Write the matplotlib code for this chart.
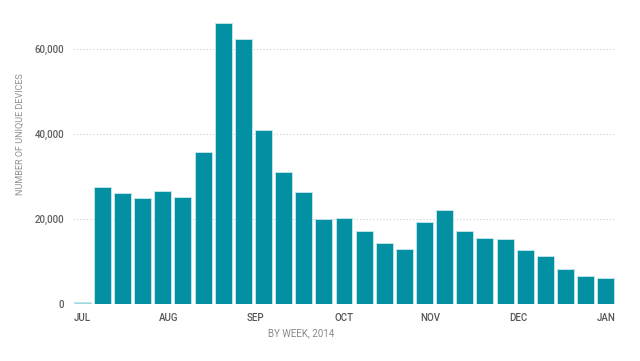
import matplotlib
matplotlib.use("Agg")
import matplotlib.pyplot as plt

# weekly unique devices, jul 2014 - jan 2015
weeks = list(range(27))
devices = [400, 27600, 26100, 24900, 26500, 25200, 35700, 66100, 62400, 40900,
           31100, 26300, 20000, 20300, 17200, 14300, 13000, 19200, 22200, 17200,
           15500, 15200, 12600, 11400, 8200, 6600, 6000]
month_labels = ["JUL", "AUG", "SEP", "OCT", "NOV", "DEC", "JAN"]
month_pos = [0, 4.3, 8.6, 13.0, 17.3, 21.65, 26.0]
y_ticks = [0, 20000, 40000, 60000]

plt.rcParams['font.family'] = ['Roboto', 'DejaVu Sans']

fig = plt.figure(figsize=(6.4, 3.61), dpi=100)
ax = fig.add_axes([0.114, 0.158, 0.847, 0.824])

colors = ['#0390a3'] * len(devices)
colors[0] = '#9fd6df'
ax.bar(weeks, devices, width=0.84, color=colors, edgecolor='#bfe3e9',
       linewidth=0.7, zorder=3)

ax.set_xlim(-0.46, 26.46)
ax.set_ylim(0, 70000)

ax.set_yticks(y_ticks)
ax.set_yticklabels(["{:,}".format(v) for v in y_ticks])
ax.set_xticks(month_pos)
ax.set_xticklabels(month_labels)

for v in y_ticks[1:]:
    ax.axhline(v, color='#cccccc', linestyle=(0, (1, 2)), linewidth=0.8, zorder=1)

for s in ax.spines.values():
    s.set_visible(False)

ax.tick_params(axis='y', length=0, pad=6.5, labelsize=7, labelcolor='#5f5f5f')
ax.tick_params(axis='x', length=0, pad=6.5, labelsize=7, labelcolor='#555555')
for lab in ax.get_xticklabels() + ax.get_yticklabels():
    lab.set_fontweight('medium')

ax.set_ylabel("NUMBER OF UNIQUE DEVICES", fontsize=6.5, color='#8f8f8f')
ax.yaxis.set_label_coords(-0.096, 0.571)
ax.yaxis.label.set_va('center')
ax.set_xlabel("BY WEEK, 2014", fontsize=7, color='#8a8a8a')
ax.xaxis.set_label_coords(0.421, -0.097)
ax.xaxis.label.set_va('center')

fig.savefig("out.png", dpi=100, facecolor='white')
